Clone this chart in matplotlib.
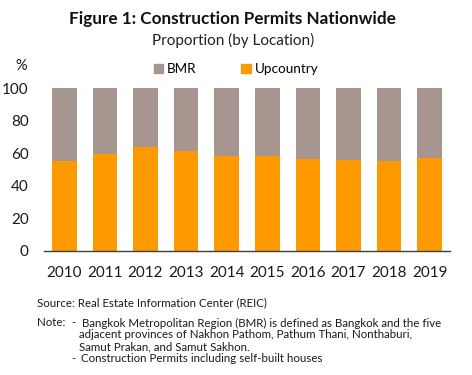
import numpy as np
import matplotlib.pyplot as plt
from matplotlib.patches import Patch

plt.rcParams['font.family'] = ['Lato', 'DejaVu Sans']

years = ['2010', '2011', '2012', '2013', '2014', '2015', '2016', '2017', '2018', '2019']
upcountry = [55.2, 59.7, 64.0, 61.5, 58.3, 58.3, 56.6, 55.8, 55.4, 57.2]
bmr = [100 - u for u in upcountry]

c_bmr = '#a7958f'
c_up = '#ff9900'

fig = plt.figure(figsize=(4.72, 3.75), dpi=100)
ax = fig.add_axes([44 / 472, 1 - 251 / 375, 406 / 472, 163 / 375])

x = np.arange(len(years))
ax.bar(x, upcountry, width=0.61, color=c_up, label='Upcountry')
ax.bar(x, bmr, width=0.61, bottom=upcountry, color=c_bmr, label='BMR')

ax.set_xlim(-0.5, len(years) - 0.5)
ax.set_ylim(0, 100)
ax.set_yticks(range(0, 101, 20))
ax.set_xticks(x)
ax.set_xticklabels(years)
ax.tick_params(axis='both', length=0, labelsize=11, colors='#1a1a1a')
ax.tick_params(axis='x', pad=11)
ax.tick_params(axis='y', pad=11)
for s in ['top', 'right', 'left']:
    ax.spines[s].set_visible(False)
ax.spines['bottom'].set_color('#404040')
ax.spines['bottom'].set_linewidth(1.0)

fig.text(232 / 472, 1 - 19 / 375, 'Figure 1: Construction Permits Nationwide',
         ha='center', va='center', fontsize=12.3, fontweight='bold', color='#111111')
fig.text(233 / 472, 1 - 40 / 375, 'Proportion (by Location)',
         ha='center', va='center', fontsize=11, color='#222222')
fig.text(21 / 472, 1 - 66 / 375, '%', ha='center', va='center', fontsize=10.5,
         color='#1a1a1a')

handles = [Patch(color=c_bmr, label='BMR'), Patch(color=c_up, label='Upcountry')]
fig.legend(handles=handles, loc='center', bbox_to_anchor=(236 / 472, 1 - 69 / 375),
           ncol=2, frameon=False, fontsize=9.7, handlelength=0.7, handleheight=0.7,
           handletextpad=0.3, columnspacing=3.3, borderaxespad=0)

fs = 8.3
col = '#1a1a1a'
fig.text(37 / 472, 1 - 303 / 375, 'Source: Real Estate Information Center (REIC)',
         va='center', fontsize=fs, color=col)
fig.text(37 / 472, 1 - 323 / 375, 'Note:', va='center', fontsize=fs, color=col)
fig.text(71 / 472, 1 - 323 / 375, '-', va='center', fontsize=fs, color=col)
fig.text(82 / 472, 1 - 323 / 375,
         'Bangkok Metropolitan Region (BMR) is defined as Bangkok and the five',
         va='center', fontsize=fs, color=col)
fig.text(79 / 472, 1 - 335 / 375,
         'adjacent provinces of Nakhon Pathom, Pathum Thani, Nonthaburi,',
         va='center', fontsize=fs, color=col)
fig.text(79 / 472, 1 - 347 / 375, 'Samut Prakan, and Samut Sakhon.',
         va='center', fontsize=fs, color=col)
fig.text(71 / 472, 1 - 359 / 375, '-', va='center', fontsize=fs, color=col)
fig.text(81 / 472, 1 - 359 / 375, 'Construction Permits including self-built houses',
         va='center', fontsize=fs, color=col)

fig.savefig('out.png', dpi=100)
